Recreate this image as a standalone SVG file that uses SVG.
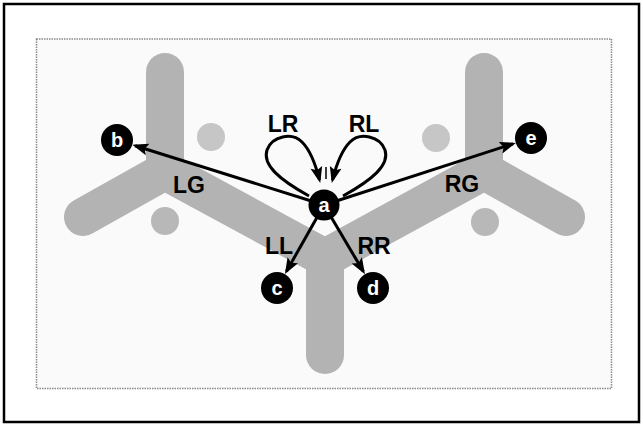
<svg xmlns="http://www.w3.org/2000/svg" width="643" height="425" viewBox="0 0 643 425">
<style>
.frame{fill:#fff;stroke:#000;stroke-width:2.5}
.inner{fill:#fafafa;stroke:#8a8a8a;stroke-width:1.5;stroke-dasharray:1.5 1}
.band{fill:none;stroke:#b3b3b3;stroke-width:38;stroke-linecap:round;stroke-linejoin:round}
.dot{fill:#b8b8b8}
.dotl{fill:#c6c6c6}
.edge{fill:none;stroke:#000;stroke-width:3}
.node circle{fill:#000}
.node text{fill:#fff;font-family:"Liberation Sans",Arial,sans-serif;font-weight:bold;font-size:20px;text-anchor:middle}
.lbl{fill:#000;font-family:"Liberation Sans",Arial,sans-serif;font-weight:bold;font-size:23px;text-anchor:middle}
</style>
<defs>
<marker id="arr" markerUnits="userSpaceOnUse" markerWidth="18" markerHeight="14" refX="13" refY="6" orient="auto" overflow="visible">
<path d="M0,0 L16,6 L0,12 L3,6 z" fill="#000"/>
</marker>
</defs>
<rect class="frame" x="4" y="4" width="635" height="418"/>
<rect class="inner" x="36.5" y="39" width="575" height="349.5"/>
<g id="background">
<path class="band" d="M83,217 L165,171 L325,258 L484,171 L566,217"/>
<path class="band" d="M165,72 L165,171"/>
<path class="band" d="M325,258 L325,355"/>
<path class="band" d="M484,72 L484,171"/>
<circle class="dotl" cx="211" cy="137" r="14"/>
<circle class="dot" cx="165" cy="221" r="14"/>
<circle class="dotl" cx="436" cy="138" r="14"/>
<circle class="dot" cx="485" cy="222" r="14"/>
</g>
<g id="connectors">
<path class="edge" d="M324,205 L135.2,145.7" marker-end="url(#arr)"/>
<path class="edge" d="M324,205 L513,143.8" marker-end="url(#arr)"/>
<path class="edge" d="M324,205 L286.4,271.5" marker-end="url(#arr)"/>
<path class="edge" d="M324,205 L363.4,271.6" marker-end="url(#arr)"/>
<path class="edge" d="M309,196 C280,180 262,165 267,150 C272,136 292,132 302,142 C310,150 316,166 319.5,180" marker-end="url(#arr)"/>
<path class="edge" d="M343,196 C372,180 390,165 385,150 C380,136 360,132 350,142 C342,150 336,166 332.5,180" marker-end="url(#arr)"/>
<line x1="326" y1="167" x2="326" y2="179" stroke="#000" stroke-width="1.5"/>
<text class="lbl" x="283" y="132">LR</text>
<text class="lbl" x="364" y="132">RL</text>
<text class="lbl" x="189" y="193">LG</text>
<text class="lbl" x="462" y="192">RG</text>
<text class="lbl" x="279" y="254">LL</text>
<text class="lbl" x="374" y="254">RR</text>
</g>
<g id="node-a" class="node"><circle cx="324" cy="205" r="15.5"/><text x="324" y="212">a</text></g>
<g id="node-b" class="node"><circle cx="117" cy="140" r="16"/><text x="117" y="147">b</text></g>
<g id="node-c" class="node"><circle cx="277" cy="288" r="16"/><text x="277" y="295">c</text></g>
<g id="node-d" class="node"><circle cx="373" cy="288" r="16"/><text x="373" y="295">d</text></g>
<g id="node-e" class="node"><circle cx="531" cy="138" r="16"/><text x="531" y="145">e</text></g>
</svg>
